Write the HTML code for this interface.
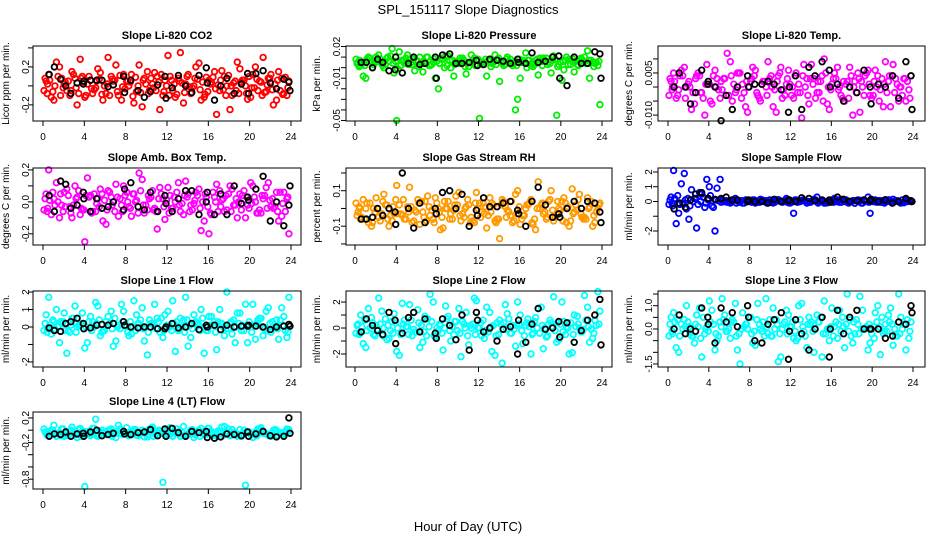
<!DOCTYPE html>
<html><head><meta charset="utf-8">
<style>
html,body{margin:0;padding:0;background:#fff;}
svg{display:block;font-family:"Liberation Sans",Arial,sans-serif;}
</style></head>
<body>
<svg id="chart" width="936" height="540" viewBox="0 0 936 540" xmlns="http://www.w3.org/2000/svg">
<rect width="936" height="540" fill="#fff"/>
<text x="468" y="14" font-size="13" text-anchor="middle">SPL_151117  Slope Diagnostics</text>
<text x="468" y="531" font-size="13" text-anchor="middle">Hour of Day (UTC)</text>
</svg>
<script>
const hoursA=[0.3,0.8,1.3,1.8,2.3,2.8,3.3,3.8,4.3,4.8,5.3,5.8,6.3,6.8,7.3,7.8,8.3,8.8,9.3,9.8,10.3,10.8,11.3,11.8,12.3,12.8,13.3,13.8,14.3,14.8,15.3,15.8,16.3,16.8,17.3,17.8,18.3,18.8,19.3,19.8,20.3,20.8,21.3,21.8,22.3,22.8,23.3,23.8];
const hoursB=[0.1,0.55,1.05,1.6,2.05,2.6,3.1,3.6,4.05,4.6,5.1,5.55,6.1,6.6,7.05,7.6,8.1,8.55,9.05,9.6,10.1,10.6,11.05,11.6,12.1,12.55,13.1,13.6,14.05,14.6,15.1,15.6,16.05,16.6,17.1,17.55,18.1,18.6,19.05,19.6,20.1,20.55,21.1,21.6,22.05,22.6,23.1,23.6];
const hoursC=[0.2,0.45,0.95,1.45,1.95,2.45,2.95,3.45,3.95,4.45,4.95,5.45,5.95,6.45,6.95,7.45,7.95,8.45,8.95,9.45,9.95,10.45,10.95,11.45,11.95,12.45,12.95,13.45,13.95,14.45,14.95,15.45,15.95,16.45,16.95,17.45,17.95,18.45,18.95,19.45,19.95,20.45,20.95,21.45,21.95,22.45,22.95,23.45];
const hoursD=[0.4,0.65,1.15,1.7,2.15,2.7,3.2,3.7,4.15,4.7,5.2,5.7,6.2,6.7,7.2,7.7,8.2,8.7,9.2,9.7,10.2,10.7,11.2,11.7,12.2,12.7,13.2,13.7,14.2,14.7,15.2,15.7,16.2,16.7,17.2,17.7,18.2,18.7,19.2,19.7,20.2,20.7,21.2,21.7,22.2,22.7,23.2,23.7];
const hoursBlack=[0.6,1.1,1.7,2.2,2.7,3.3,3.9,3.95,4.6,5.2,5.7,6.3,6.8,7.8,7.9,8.5,9.2,9.8,10.4,11.1,11.8,11.9,12.5,13.1,13.8,14.4,15.1,15.8,15.9,16.6,17.2,17.8,18.5,19.2,19.8,19.9,20.6,21.3,22.0,22.6,23.3,23.8,23.9];
const xTicks=[0,4,8,12,16,20,24];

const co2A=[0.05,-0.12,0.25,0.08,-0.05,0.15,-0.2,0.1,0.02,-0.08,0.18,-0.15,0.3,0.05,-0.1,0.12,0.0,-0.18,0.22,0.08,-0.05,0.14,-0.25,0.06,0.1,-0.12,0.35,0.02,-0.08,0.2,-0.15,0.09,0.04,-0.3,0.16,0.0,-0.1,0.25,0.06,-0.14,0.12,-0.05,0.3,0.08,-0.2,0.15,-0.08,0.05];
const co2B=[-0.05,0.12,-0.15,0.2,0.02,-0.1,0.08,0.28,-0.12,0.06,-0.02,0.14,-0.08,0.1,0.22,-0.15,0.05,0.12,-0.06,-0.22,0.15,0.02,0.1,-0.1,0.32,-0.05,0.08,-0.18,0.12,0.0,0.24,-0.12,0.06,0.15,-0.05,0.1,-0.25,0.05,0.18,0.0,-0.12,0.2,0.04,-0.06,0.12,-0.15,0.08,-0.1];
const co2C=[0.08,0.02,-0.06,0.1,-0.02,0.05,0.12,-0.08,0.04,0.1,-0.04,0.07,0.0,-0.1,0.06,0.11,-0.03,0.04,0.09,-0.07,0.02,0.08,-0.05,0.12,0.0,0.06,-0.09,0.03,0.1,-0.02,0.07,0.04,-0.06,0.09,0.01,-0.04,0.11,0.03,-0.08,0.06,0.1,-0.02,0.05,-0.07,0.08,0.02,-0.05,0.09];
const co2D=[-0.08,0.06,0.0,-0.1,0.04,-0.05,-0.02,0.08,-0.1,-0.03,0.05,-0.09,0.02,0.07,-0.06,-0.01,0.05,-0.11,0.0,0.06,-0.08,-0.02,0.04,-0.06,-0.1,0.02,0.05,-0.07,-0.01,0.08,-0.04,-0.09,0.02,-0.03,0.06,-0.1,0.0,-0.05,0.04,-0.08,-0.02,0.07,-0.1,0.01,-0.04,0.06,-0.09,-0.02];
const co2Black=[0.12,0.2,0.07,0.0,-0.08,0.03,0.02,0.05,0.06,0.06,0.06,-0.01,0.01,0.1,-0.07,0.06,-0.05,-0.12,-0.06,0.01,0.1,-0.13,-0.02,0.11,0.0,-0.07,0.11,0.19,0.03,-0.15,0.0,0.08,-0.08,0.02,0.13,-0.08,0.13,0.16,0.03,-0.03,0.07,0.04,-0.05];

const presA=[0.005,-0.008,0.01,0.003,0.012,0.0,0.006,-0.005,0.015,0.004,0.008,-0.003,0.01,0.005,0.002,-0.01,0.009,0.011,0.0,0.006,0.007,-0.006,0.012,0.003,0.005,-0.008,0.004,0.008,0.004,0.01,0.002,-0.03,0.007,0.007,0.001,-0.007,0.009,0.005,0.011,0.003,-0.002,0.008,-0.004,0.006,0.01,-0.01,0.004,-0.035];
const presB=[0.008,0.002,-0.01,0.006,0.01,0.004,0.009,0.018,-0.05,0.007,0.012,0.003,0.006,-0.004,0.01,0.005,-0.02,0.008,0.011,-0.008,0.004,0.007,0.001,0.009,-0.048,0.005,0.006,0.012,-0.013,0.003,0.008,-0.04,-0.01,0.014,0.002,0.007,0.006,0.009,-0.005,-0.045,-0.012,0.01,0.006,0.003,0.008,0.016,0.005,0.002];
const presC=[0.004,0.007,0.002,0.009,0.005,0.008,0.003,0.011,0.006,0.002,0.009,0.005,0.007,0.004,0.01,0.003,0.006,0.008,0.002,0.007,0.005,0.009,0.004,0.006,0.008,0.003,0.007,0.005,0.009,0.002,0.006,0.004,0.008,0.005,0.007,0.003,0.009,0.006,0.004,0.008,0.005,0.007,0.003,0.006,0.009,0.004,0.007,0.005];
const presD=[0.001,0.004,0.008,0.0,0.006,0.002,0.01,0.004,-0.001,0.006,0.003,0.008,0.001,0.006,0.002,0.008,0.004,0.0,0.007,0.003,0.009,0.001,0.005,0.002,0.004,0.008,0.001,0.003,0.006,0.008,0.004,0.002,0.005,0.0,0.004,0.008,0.002,0.003,0.007,0.001,0.006,0.003,0.008,0.002,0.005,0.007,0.001,0.006];
const presBlack=[0.005,0.005,0.0,0.008,0.005,-0.003,-0.002,0.01,-0.005,0.004,0.01,0.003,0.004,0.01,-0.01,0.012,0.013,0.004,0.004,0.005,0.007,0.002,0.003,0.008,0.007,0.006,0.004,0.008,0.005,0.004,0.014,0.005,0.006,0.01,0.011,-0.01,-0.017,0.01,0.004,0.004,0.015,0.013,-0.01];

const tempA=[0.002,-0.004,0.006,0.0,-0.008,0.004,-0.002,0.008,-0.006,0.003,-0.001,0.012,-0.005,0.005,0.001,-0.009,0.007,-0.003,0.002,0.009,-0.007,0.004,-0.001,0.006,-0.004,0.001,0.008,-0.006,0.003,-0.002,0.01,-0.008,0.005,0.0,-0.005,0.007,0.002,-0.009,0.004,-0.003,0.006,-0.001,0.009,-0.007,0.003,0.0,-0.005,0.004];
const tempB=[-0.003,0.005,-0.001,0.007,0.002,-0.006,0.004,-0.01,0.001,0.006,-0.004,0.003,0.009,-0.002,0.005,-0.007,0.002,0.006,-0.005,0.0,0.004,-0.009,0.007,0.001,-0.003,0.005,-0.011,0.003,0.008,-0.002,0.004,-0.006,0.001,0.007,-0.004,0.002,-0.01,0.005,0.0,0.006,-0.003,0.004,-0.007,0.002,0.008,-0.005,0.003,-0.001];
const tempC=[0.003,0.0,-0.003,0.004,0.001,-0.002,0.005,-0.004,0.002,0.004,-0.001,0.003,-0.003,0.001,0.005,-0.002,0.0,0.004,-0.004,0.002,0.003,-0.001,0.005,-0.003,0.001,0.004,-0.002,0.0,0.003,-0.004,0.002,0.005,-0.001,0.003,-0.003,0.001,0.004,-0.002,0.002,0.005,-0.004,0.0,0.003,-0.002,0.004,0.001,-0.003,0.002];
const tempD=[-0.001,0.002,0.004,-0.004,0.0,0.003,-0.002,0.001,-0.005,0.0,0.002,-0.003,0.004,-0.001,-0.004,0.002,0.003,-0.002,0.001,-0.003,0.0,0.002,-0.004,0.003,0.0,-0.002,0.004,-0.003,0.001,0.002,-0.005,0.0,0.003,-0.001,0.002,-0.004,0.0,0.003,-0.003,0.001,0.002,-0.005,0.001,0.004,-0.002,0.0,0.003,-0.004];
const tempBlack=[0.0,0.005,0.0,-0.006,-0.002,0.006,0.001,0.002,0.0,-0.012,-0.003,-0.008,0.0,0.004,0.0,0.001,0.001,0.002,0.001,-0.001,-0.009,0.0,0.004,-0.008,0.007,0.004,0.009,0.006,0.0,0.001,-0.005,0.0,-0.002,0.006,0.0,-0.006,0.001,0.0,0.004,-0.004,0.009,0.004,-0.008];

const ambA=[0.05,-0.08,0.12,-0.02,0.08,-0.1,0.03,-0.05,0.15,-0.06,0.02,-0.12,0.07,0.0,-0.09,0.1,-0.03,0.05,0.18,-0.07,0.02,-0.04,0.09,-0.11,0.04,0.0,-0.06,0.13,-0.02,0.06,-0.18,0.03,-0.08,0.11,0.01,-0.05,0.08,-0.1,0.04,-0.02,0.1,-0.07,0.02,0.12,-0.04,-0.12,0.06,-0.2];
const ambB=[-0.05,0.2,0.02,-0.1,0.06,-0.03,0.1,-0.08,-0.25,0.04,-0.06,0.08,-0.14,0.03,0.11,-0.02,0.06,-0.09,0.01,0.14,-0.05,0.07,-0.17,0.02,0.09,-0.04,0.12,-0.08,0.05,-0.01,0.08,-0.12,-0.2,0.03,0.07,-0.06,0.1,-0.02,0.05,-0.1,0.12,0.0,-0.07,0.09,-0.03,0.06,-0.09,0.02];
const ambC=[0.02,-0.04,0.06,0.0,-0.06,0.04,-0.02,0.07,-0.05,0.03,0.05,-0.03,0.01,0.06,-0.06,0.02,0.04,-0.04,0.0,0.07,-0.02,0.03,-0.06,0.05,0.01,-0.04,0.06,-0.01,0.03,-0.05,0.04,0.0,-0.03,0.06,-0.06,0.02,0.05,-0.02,0.0,0.07,-0.04,0.03,-0.05,0.04,0.01,-0.03,0.06,-0.06];
const ambD=[-0.06,0.01,-0.02,0.05,-0.03,-0.07,0.02,-0.04,0.04,-0.07,-0.01,0.05,-0.05,-0.02,0.03,-0.06,0.0,0.05,-0.07,-0.02,0.04,-0.05,0.02,-0.03,-0.07,0.03,-0.02,0.04,-0.06,0.01,-0.04,0.05,-0.07,0.0,-0.03,0.04,-0.06,0.02,-0.05,0.03,-0.01,-0.07,0.04,-0.04,0.02,-0.06,-0.01,0.03];
const ambBlack=[0.04,-0.06,0.13,0.11,-0.04,-0.02,0.06,0.02,-0.06,0.02,-0.04,-0.03,0.0,-0.05,0.08,0.12,-0.03,-0.05,0.06,-0.06,0.04,-0.01,-0.06,0.02,0.07,0.07,-0.08,0.0,0.06,-0.08,0.05,-0.08,0.1,-0.01,0.03,0.01,0.08,0.16,-0.12,0.0,-0.15,-0.02,0.1];

const rhA=[-0.02,0.05,-0.08,0.0,-0.05,0.08,-0.1,-0.03,0.02,-0.06,0.12,-0.01,-0.09,0.04,-0.04,0.06,-0.12,0.0,-0.03,0.07,-0.07,0.01,-0.05,0.09,-0.02,-0.11,0.03,-0.06,0.05,-0.01,-0.08,0.1,-0.04,0.02,-0.09,0.15,-0.03,0.04,-0.07,0.0,0.06,-0.1,-0.02,0.08,-0.05,0.01,-0.08,0.03];
const rhB=[0.03,-0.06,0.0,-0.1,0.06,-0.03,0.02,-0.07,0.13,-0.04,0.01,-0.08,0.05,-0.02,0.07,-0.06,0.0,-0.11,0.04,-0.01,0.09,-0.05,0.02,-0.08,0.03,-0.03,0.06,-0.07,-0.17,0.01,-0.04,0.08,-0.09,0.0,0.05,-0.12,0.02,-0.06,0.1,-0.03,0.04,-0.08,0.11,-0.01,-0.05,0.06,-0.1,0.0];
const rhC=[-0.04,0.0,-0.06,0.03,-0.02,-0.07,0.02,-0.04,0.05,-0.03,-0.06,0.01,-0.02,0.04,-0.07,-0.01,0.03,-0.05,0.0,-0.06,0.02,-0.03,0.05,-0.07,0.0,0.03,-0.04,0.02,-0.06,0.04,-0.02,-0.07,0.01,-0.04,0.03,-0.06,0.0,-0.02,0.05,-0.05,-0.01,0.03,-0.07,0.02,-0.03,-0.06,0.04,-0.02];
const rhD=[0.01,-0.05,0.03,-0.08,0.0,0.04,-0.06,0.01,-0.03,0.05,-0.02,-0.07,0.03,-0.05,0.01,-0.08,-0.02,0.04,-0.06,0.02,-0.04,0.0,-0.08,0.03,-0.05,0.01,-0.02,-0.08,0.02,-0.05,0.04,-0.03,-0.06,0.02,-0.08,0.0,0.03,-0.05,-0.01,0.04,-0.07,0.01,-0.03,0.05,-0.06,0.0,-0.04,0.02];
const rhBlack=[-0.06,-0.06,-0.05,0.0,-0.04,0.0,-0.02,-0.09,0.2,0.0,-0.11,0.03,-0.08,0.0,-0.03,0.09,0.1,0.0,0.08,-0.1,-0.01,-0.04,0.06,0.01,0.01,0.03,0.04,-0.01,-0.03,-0.1,0.04,0.12,0.02,-0.05,-0.03,-0.05,0.0,0.04,0.0,0.04,0.03,-0.02,-0.08];

const sampA=[0.3,-1.5,1.2,-0.5,0.8,-1.8,0.5,1.5,-0.3,0.9,0.1,-0.05,0.1,0.05,-0.1,0.0,0.1,-0.05,0.08,0.0,-0.1,0.12,0.02,-0.08,-0.8,0.05,0.1,-0.05,0.15,0.0,-0.1,0.05,0.2,-0.05,0.1,0.0,-0.12,0.08,0.02,-0.8,0.1,-0.05,0.12,0.0,0.05,-0.1,0.1,0.0];
const sampB=[-0.2,2.1,-0.8,1.9,-1.2,0.2,0.6,-0.4,1.0,-2.0,1.5,0.0,-0.1,0.2,-0.05,0.1,0.0,-0.1,0.15,0.05,-0.05,0.1,0.0,0.2,-0.05,0.1,0.05,-0.1,0.0,0.3,0.05,-0.08,0.1,0.0,0.15,-0.05,0.05,0.1,-0.1,0.3,0.0,0.05,-0.05,0.1,0.15,0.0,-0.08,0.05];
const sampC=[0.1,-0.3,0.4,-0.1,0.2,0.0,-0.2,0.3,0.1,-0.4,0.05,0.0,-0.05,0.1,0.0,-0.1,0.05,0.1,-0.05,0.0,0.1,-0.05,0.05,0.0,-0.1,0.1,0.0,0.05,-0.05,0.1,0.0,-0.1,0.05,0.0,-0.05,0.1,0.0,0.05,-0.1,0.0,0.1,-0.05,0.05,0.0,-0.1,0.05,0.1,0.0];
const sampD=[-0.1,0.2,-0.2,0.1,-0.3,0.2,0.0,-0.1,0.4,0.1,-0.05,0.05,0.0,-0.1,0.05,0.1,-0.05,0.0,0.1,-0.1,0.0,0.05,-0.05,0.1,0.0,-0.05,0.1,0.0,0.05,-0.1,0.05,0.0,-0.05,0.1,0.0,-0.1,0.05,0.0,0.1,-0.05,0.0,0.05,-0.1,0.1,0.0,-0.05,0.0,0.05];
const sampBlack=[-0.5,-0.1,-0.4,0.1,0.5,0.6,0.2,0.2,0.15,0.2,0.3,0.1,0.1,0.0,0.1,0.0,0.0,-0.1,0.15,0.0,0.05,0.1,0.0,0.25,0.2,0.05,0.1,0.1,-0.05,0.3,0.15,0.0,0.05,0.1,0.05,0.15,0.0,0.1,-0.1,0.0,0.2,0.05,0.0];

const l1A=[0.7,-0.4,1.0,0.2,-1.5,0.5,0.0,0.8,-0.9,0.3,1.2,-0.2,0.6,-1.1,0.1,0.9,-0.5,1.5,0.2,-0.8,0.4,1.3,-0.3,0.7,0.0,-1.4,0.5,1.7,-0.6,0.3,1.0,-0.2,0.6,-1.3,0.2,2.0,-0.4,0.8,0.1,-0.9,1.3,0.4,-0.5,1.1,0.0,-0.7,0.6,1.7];
const l1B=[-0.2,1.7,0.3,-0.9,0.8,-0.3,1.2,0.1,-1.2,0.6,1.4,-0.5,0.3,0.9,-0.8,1.3,0.0,-0.4,0.7,1.1,-1.6,0.2,0.5,-0.6,0.9,1.5,-0.2,0.4,-1.1,0.7,0.1,-1.5,0.6,0.3,1.0,-0.5,0.2,-0.9,0.8,1.3,0.0,-0.7,0.5,0.9,-0.3,0.4,1.1,-0.6];
const l1C=[0.2,-0.1,0.4,0.0,0.3,-0.2,0.5,0.1,-0.1,0.3,0.0,0.4,-0.2,0.2,0.5,-0.1,0.1,0.3,-0.2,0.4,0.0,0.2,-0.1,0.5,0.1,-0.2,0.3,0.0,0.4,-0.1,0.2,0.5,-0.2,0.1,0.3,0.0,-0.1,0.4,0.2,-0.2,0.3,0.1,0.5,-0.1,0.2,0.0,0.4,-0.2];
const l1D=[-0.3,0.1,-0.1,0.3,-0.2,0.1,-0.3,0.2,0.0,-0.2,0.2,-0.3,0.1,-0.1,0.0,0.3,-0.3,0.0,0.2,-0.1,-0.3,0.1,0.3,-0.2,0.0,0.2,-0.1,-0.3,0.1,0.2,-0.2,0.0,0.1,-0.3,0.2,-0.1,0.3,0.0,-0.2,0.1,-0.3,0.2,0.0,-0.2,0.3,-0.1,0.1,-0.3];
const l1Black=[-0.05,-0.2,-0.25,0.2,0.3,0.5,0.2,-0.1,-0.05,0.1,0.15,0.1,0.2,0.3,0.1,0.0,-0.05,0.0,0.0,-0.1,-0.1,0.0,0.2,-0.05,0.0,0.2,-0.15,0.1,0.0,0.1,-0.15,0.1,0.0,0.05,0.05,0.1,0.05,0.0,-0.15,0.0,0.05,0.15,0.05];

const l2A=[0.3,-1.2,1.5,-0.5,2.3,0.0,-0.8,1.1,-2.1,0.6,1.8,-0.3,-1.5,0.9,2.6,-0.7,0.2,1.7,-1.0,0.5,-2.2,1.2,0.0,2.1,-0.6,1.6,-1.8,0.4,-2.7,1.1,0.2,2.0,-1.2,0.7,-0.4,1.5,-1.6,0.3,2.4,-0.9,0.5,-2.0,1.0,0.0,2.5,-1.1,0.6,1.3];
const l2B=[-0.4,1.0,-1.5,0.8,0.2,1.3,-0.9,0.5,-1.8,1.9,0.1,-0.6,1.4,-1.1,0.7,2.0,-0.2,-1.7,0.9,-0.5,1.5,0.3,-1.3,2.3,0.0,-0.8,1.2,-2.1,0.6,1.8,-0.4,-1.4,1.0,0.2,-2.0,0.8,1.6,-0.7,0.4,-1.1,2.0,0.1,-1.9,0.9,-0.3,1.6,-0.8,2.8];
const l2C=[0.2,-0.4,0.6,0.0,-0.6,0.3,0.7,-0.2,0.4,-0.5,0.1,0.6,-0.3,0.2,-0.6,0.5,0.0,-0.4,0.7,0.1,-0.2,0.5,-0.6,0.3,0.0,0.6,-0.3,0.2,-0.5,0.4,0.7,-0.1,0.3,-0.6,0.1,0.5,-0.4,0.0,0.6,-0.2,0.3,-0.5,0.4,0.1,-0.3,0.6,-0.1,0.2];
const l2D=[-0.5,0.1,-0.2,0.4,-0.1,-0.6,0.2,-0.4,0.0,0.3,-0.5,-0.1,0.4,-0.3,0.1,-0.6,0.3,0.0,-0.2,0.5,-0.4,0.0,0.2,-0.5,0.4,-0.2,0.1,-0.6,0.3,-0.1,-0.4,0.2,-0.2,0.4,-0.5,0.0,0.2,-0.6,0.1,0.4,-0.3,0.0,-0.5,0.3,-0.1,0.1,-0.4,0.3];
const l2Black=[-0.3,0.7,0.2,-0.2,-0.5,1.2,0.6,-1.2,-0.4,0.8,1.2,-0.3,0.7,-0.4,-0.8,0.7,0.2,-0.9,1.0,-1.7,1.2,0.6,-0.3,0.0,-1.0,-0.1,0.1,-2.0,0.6,-1.1,0.3,1.5,-0.1,0.0,0.5,-0.7,0.4,-1.1,-0.2,0.6,1.0,2.2,-1.3];

const l3A=[0.5,-0.8,0.2,1.0,-0.3,0.6,-1.2,0.1,0.8,-0.5,1.3,-0.1,0.4,-0.9,0.7,0.0,-0.6,1.1,0.3,-0.2,0.9,-1.4,0.2,0.6,-0.4,1.0,-0.1,0.5,-1.0,0.3,1.2,-0.5,0.1,0.8,-0.8,0.4,-0.2,1.4,0.0,-0.6,0.7,-1.1,0.2,0.9,-0.3,0.5,-0.9,0.3];
const l3B=[-0.3,0.7,-1.0,0.4,0.1,-0.6,0.9,-0.2,1.2,-0.9,0.3,0.6,-0.4,1.1,-1.5,0.2,0.5,-0.7,0.0,1.3,-0.3,0.4,-1.2,0.8,0.1,-0.5,1.1,-0.8,0.3,0.6,-1.2,0.0,0.9,-0.4,0.5,1.5,-0.6,0.2,0.8,-0.9,0.1,1.0,-0.2,0.6,-0.7,1.5,0.2,-0.4];
const l3C=[0.2,-0.2,0.4,0.0,0.3,-0.3,0.1,0.5,-0.1,0.2,-0.3,0.4,0.0,0.3,-0.2,0.1,0.5,-0.1,0.2,-0.3,0.4,0.0,-0.2,0.3,0.1,-0.1,0.4,-0.3,0.2,0.0,0.5,-0.2,0.1,0.3,-0.1,0.2,-0.3,0.4,0.0,0.1,-0.2,0.3,0.5,-0.1,0.2,-0.3,0.0,0.4];
const l3D=[-0.1,0.3,-0.3,0.1,-0.2,0.2,-0.4,0.0,0.3,-0.2,0.1,-0.1,0.3,-0.3,0.0,0.2,-0.2,0.4,-0.1,0.1,-0.3,0.2,0.0,-0.2,0.3,-0.4,0.1,0.2,-0.1,0.3,-0.2,0.0,-0.3,0.2,0.1,-0.1,0.3,-0.2,0.0,0.2,-0.4,0.1,-0.1,0.3,0.0,-0.2,0.2,-0.1];
const l3Black=[0.0,0.6,-0.2,0.0,-0.1,0.9,0.5,0.2,-0.6,0.9,0.3,0.7,0.1,1.0,0.5,-0.5,-0.6,0.2,0.4,0.7,-1.3,-0.1,0.4,-0.2,-0.9,0.0,0.5,-1.2,0.0,0.8,-0.2,0.5,0.8,0.0,0.0,0.0,0.0,-0.4,-0.3,0.3,0.2,1.0,0.7];

const l4A=[-0.05,0.0,-0.1,0.02,-0.08,0.05,-0.12,-0.02,-0.06,0.03,-0.1,-0.04,0.0,-0.07,0.08,-0.03,-0.09,0.01,-0.05,-0.11,0.02,-0.06,-0.01,-0.08,0.04,-0.03,-0.1,-0.1,0.0,-0.05,0.03,-0.07,-0.02,-0.09,0.05,-0.04,0.01,-0.1,-0.06,-0.02,-0.12,0.02,-0.05,-0.08,0.0,-0.04,-0.1,0.01];
const l4B=[0.02,-0.08,0.08,-0.04,-0.1,-0.01,-0.06,0.03,-0.92,-0.09,0.18,-0.03,-0.07,0.02,-0.12,-0.05,0.04,-0.02,-0.08,0.0,-0.11,0.05,-0.04,-0.85,0.01,-0.1,-0.03,0.06,-0.06,-0.12,0.0,-0.05,0.03,-0.08,-0.02,0.06,-0.09,-0.04,0.01,-0.9,-0.07,-0.03,0.04,-0.06,-0.1,0.0,-0.05,0.02];
const l4C=[-0.03,-0.07,0.0,-0.05,0.02,-0.09,-0.03,0.01,-0.06,-0.02,0.03,-0.08,-0.04,0.0,-0.06,0.02,-0.03,-0.08,0.01,-0.05,-0.02,0.03,-0.07,-0.03,0.0,-0.06,0.02,-0.04,-0.08,0.01,-0.03,-0.06,0.03,-0.05,-0.01,-0.08,0.02,-0.04,-0.07,0.0,-0.03,-0.06,0.02,-0.05,-0.09,0.01,-0.04,-0.02];
const l4D=[-0.08,-0.02,-0.05,-0.09,-0.04,0.0,-0.07,-0.1,-0.02,-0.06,-0.09,0.0,-0.05,-0.1,-0.02,-0.07,-0.05,-0.01,-0.09,-0.04,-0.07,-0.1,0.0,-0.06,-0.08,-0.02,-0.06,-0.09,-0.03,-0.07,-0.1,-0.01,-0.06,-0.09,-0.04,-0.02,-0.08,-0.06,-0.1,-0.03,-0.07,-0.09,-0.01,-0.06,-0.04,-0.08,-0.07,-0.03];
const l4Black=[-0.1,-0.06,-0.07,-0.03,-0.1,-0.06,-0.05,-0.1,-0.03,0.0,-0.09,-0.07,-0.05,-0.02,-0.06,-0.07,-0.04,-0.03,0.01,-0.09,0.02,-0.1,0.03,-0.04,-0.1,-0.02,-0.04,-0.02,-0.12,-0.13,-0.11,-0.06,-0.07,-0.09,-0.03,-0.1,-0.06,-0.02,-0.09,-0.11,-0.1,0.2,-0.05];

const panelTitles=["Slope Li-820 CO2","Slope Li-820 Pressure","Slope Li-820 Temp.","Slope Amb. Box Temp.","Slope Gas Stream RH","Slope Sample Flow","Slope Line 1 Flow","Slope Line 2 Flow","Slope Line 3 Flow","Slope Line 4 (LT) Flow"];
const panelYLabels=["Licor ppm per min.","kPa per min.","degrees C per min.","degrees C per min.","percent per min.","ml/min per min.","ml/min per min.","ml/min per min.","ml/min per min.","ml/min per min."];
const panelYTicks=[[-0.2,0,0.2,0.4],[0.02,0.01,0,-0.01,-0.02,-0.03,-0.04,-0.05],[0.01,0.005,0,-0.005,-0.01],[0.2,0.1,0,-0.1,-0.2],[0.2,0.1,0,-0.1,-0.2],[2,1,0,-1,-2],[2,1,0,-1,-2],[2,1,0,-1,-2],[1.5,1,0.5,0,-0.5,-1,-1.5],[0.2,0,-0.2,-0.4,-0.6,-0.8]];
const panelYTickLabels=[["-0.2","","0.2",""],["0.02","","","-0.01","","","","-0.05"],["","0.005","","","-0.010"],["0.2","","0.0","","-0.2"],["","0.1","","-0.1",""],["2","1","0","","-2"],["2","1","0","","-2"],["2","","0","","-2"],["","1.0","","0.0","","","-1.5"],["0.2","","-0.2","","","-0.8"]];
const panelYRange=[[-0.37,0.42],[-0.0505,0.0205],[-0.0121,0.0146],[-0.27,0.212],[-0.206,0.228],[-2.95,2.27],[-2.29,2.06],[-3.0,2.85],[-1.63,1.63],[-0.96,0.297]];
const panelColors=["#ff0000","#00ee00","#ff00ff","#ff00ff","#ff9900","#0000ff","#00ffff","#00ffff","#00ffff","#00ffff"];
const panelSeries=[[co2A,co2B,co2C,co2D,co2Black],[presA,presB,presC,presD,presBlack],[tempA,tempB,tempC,tempD,tempBlack],[ambA,ambB,ambC,ambD,ambBlack],[rhA,rhB,rhC,rhD,rhBlack],[sampA,sampB,sampC,sampD,sampBlack],[l1A,l1B,l1C,l1D,l1Black],[l2A,l2B,l2C,l2D,l2Black],[l3A,l3B,l3C,l3D,l3Black],[l4A,l4B,l4C,l4D,l4Black]];

const NS="http://www.w3.org/2000/svg";
const svg=document.getElementById('chart');
const colGeom=[{l:33,r:301,x0:43,x24:291,yl:9,tl:29},{l:346,r:612,x0:355,x24:602,yl:320,tl:340},{l:658,r:925,x0:668,x24:913,yl:632,tl:652}];
const rowGeom=[{t:46,b:121},{t:168,b:245},{t:291,b:367},{t:412,b:489}];
function mk(tag,attrs,parent){const e=document.createElementNS(NS,tag);for(const k in attrs)e.setAttribute(k,attrs[k]);(parent||svg).appendChild(e);return e;}

panelTitles.forEach((title,i)=>{
  const c=colGeom[i%3], r=rowGeom[Math.floor(i/3)];
  const g=mk('g',{});
  
  
  const xs=h=>c.x0+(h/24)*(c.x24-c.x0);
  const [ymin,ymax]=panelYRange[i];
  const ys=v=>r.b-(v-ymin)/(ymax-ymin)*(r.b-r.t);
  const t=mk('text',{x:(c.l+c.r)/2,y:r.t-7,'font-size':11,'font-weight':'bold','text-anchor':'middle'},g);
  t.textContent=title;
  
  
  const [sa,sb,sc,sd,sk]=panelSeries[i];
  const col=panelColors[i];
  const drawSeries=(hours,vals,color,name)=>{
    const sg=mk('g',{fill:'none',stroke:color,'stroke-width':1.8},g);
    
    
    const n=Math.min(hours.length,vals.length);
    for(let k=0;k<n;k++){
      const p=mk('circle',{cx:xs(hours[k]).toFixed(1),cy:ys(vals[k]).toFixed(1),r:2.8},sg);
      
      
    }
  };
  drawSeries(hoursC,sc,col,'series-c-points');
  drawSeries(hoursD,sd,col,'series-d-points');
  drawSeries(hoursA,sa,col,'series-a-points');
  drawSeries(hoursB,sb,col,'series-b-points');
  drawSeries(hoursBlack,sk,'#000','hourly-mean-points');
  const bx=mk('rect',{x:c.l,y:r.t,width:c.r-c.l,height:r.b-r.t,fill:'none',stroke:'#000','stroke-width':1},g);
  
  
  xTicks.forEach(h=>{
    const x=xs(h);
    const tk=mk('line',{x1:x,x2:x,y1:r.b,y2:r.b+5,stroke:'#000'},g);
    
    
    const tl=mk('text',{x:x,y:r.b+19,'font-size':10,'text-anchor':'middle'},g);
    tl.textContent=String(h);
    
    
  });
  panelYTicks[i].forEach((v,k)=>{
    const y=ys(v);
    const tk=mk('line',{x1:c.l-5,x2:c.l,y1:y,y2:y,stroke:'#000'},g);
    
    
    const lab=panelYTickLabels[i][k];
    if(lab){
      const tl=mk('text',{x:c.tl,y:y,'font-size':10,'text-anchor':'middle',transform:`rotate(-90 ${c.tl} ${y})`},g);
      tl.textContent=lab;
      
      
    }
  });
  const ym=(r.t+r.b)/2;
  const yl=mk('text',{x:c.yl,y:ym,'font-size':10,'text-anchor':'middle',transform:`rotate(-90 ${c.yl} ${ym})`},g);
  yl.textContent=panelYLabels[i];
  
  
});
</script>
</body></html>
